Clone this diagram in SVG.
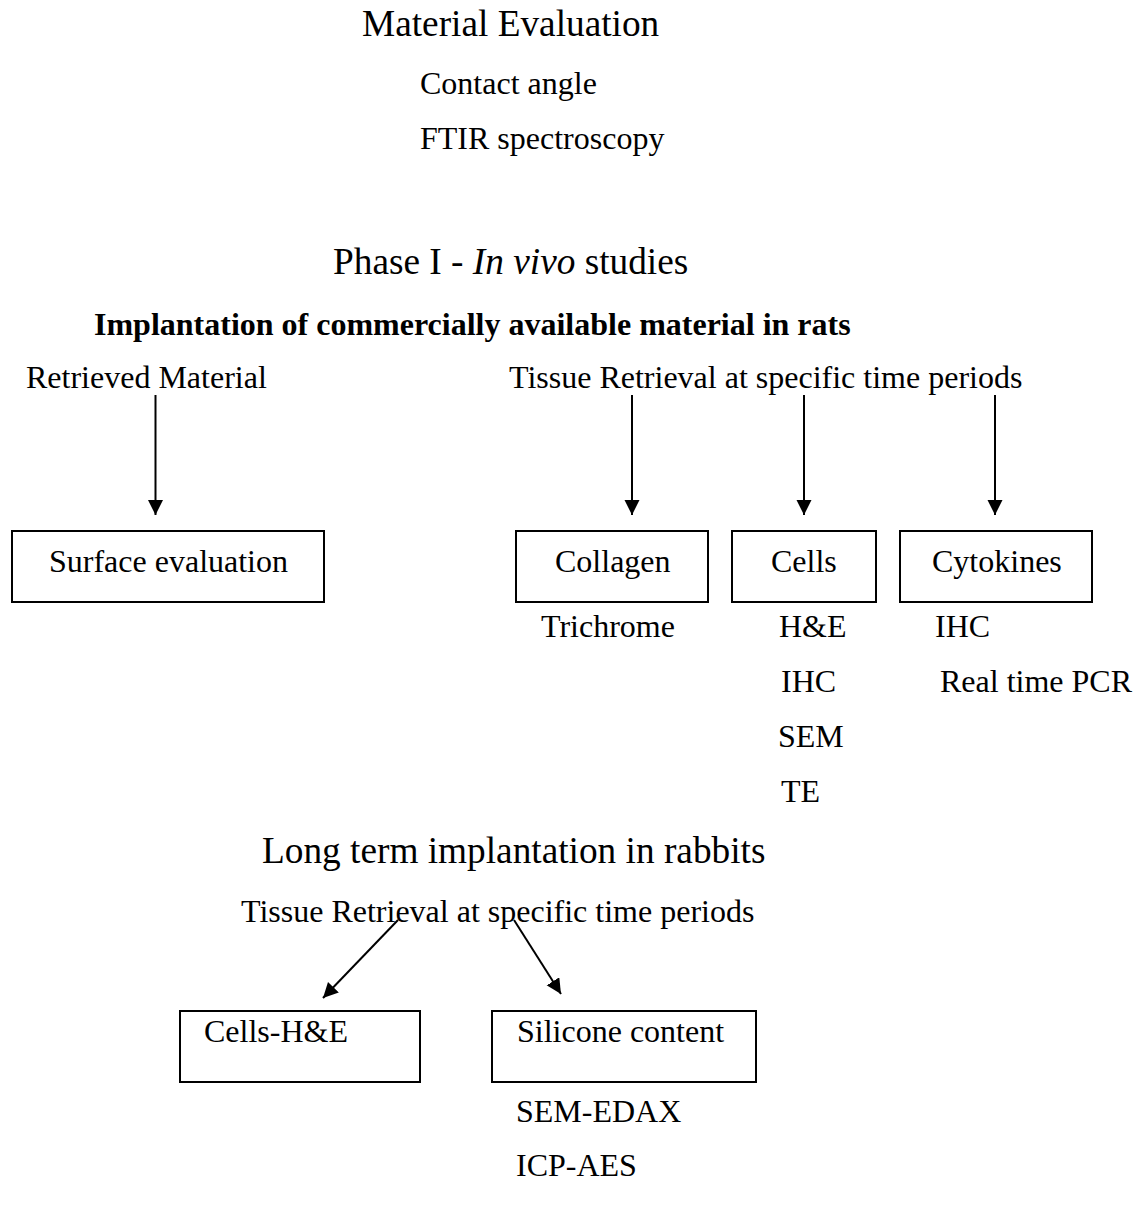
<svg xmlns="http://www.w3.org/2000/svg" width="1137" height="1211" viewBox="0 0 1137 1211">
<style>
text{font-family:"Liberation Serif","Times New Roman",serif;fill:#000;font-size:32px}
.big{font-size:37.3px}
.b{font-weight:bold}
.box{fill:none;stroke:#000;stroke-width:2}
.con{stroke:#000;stroke-width:2;fill:none}
</style>
<defs>
<marker id="ah" markerWidth="16" markerHeight="16" refX="15" refY="7.5" orient="auto" markerUnits="userSpaceOnUse">
<path d="M0,0 L15,7.5 L0,15 Z" fill="#000"/>
</marker>
</defs>
<rect width="1137" height="1211" fill="#fff"/>
<g id="material-evaluation">
<text class="big" x="362" y="36">Material Evaluation</text>
<text x="420" y="94">Contact angle</text>
<text x="420" y="149">FTIR spectroscopy</text>
</g>
<g id="phase1">
<text class="big" x="333" y="274">Phase I - <tspan font-style="italic">In vivo</tspan> studies</text>
<text class="b" x="94" y="335">Implantation of commercially available material in rats</text>
</g>
<g id="retrieved-material"><text x="26" y="388">Retrieved Material</text></g>
<g id="tissue-retrieval-1"><text x="509" y="388">Tissue Retrieval at specific time periods</text></g>
<g id="surface-evaluation">
<rect class="box" x="12" y="531" width="312" height="71"/>
<text x="49" y="572">Surface evaluation</text>
</g>
<g id="collagen">
<rect class="box" x="516" y="531" width="192" height="71"/>
<text x="555" y="572">Collagen</text>
<text x="541" y="637">Trichrome</text>
</g>
<g id="cells">
<rect class="box" x="732" y="531" width="144" height="71"/>
<text x="771" y="572">Cells</text>
<text x="779" y="637">H&amp;E</text>
<text x="781" y="692">IHC</text>
<text x="778" y="747">SEM</text>
<text x="781" y="802">TE</text>
</g>
<g id="cytokines">
<rect class="box" x="900" y="531" width="192" height="71"/>
<text x="932" y="572">Cytokines</text>
<text x="935" y="637">IHC</text>
<text x="940" y="692">Real time PCR</text>
</g>
<g id="long-term">
<text class="big" x="262" y="863">Long term implantation in rabbits</text>
</g>
<g id="tissue-retrieval-2"><text x="241" y="922">Tissue Retrieval at specific time periods</text></g>
<g id="cells-he">
<rect class="box" x="180" y="1011" width="240" height="71"/>
<text x="204" y="1042">Cells-H&amp;E</text>
</g>
<g id="silicone-content">
<rect class="box" x="492" y="1011" width="264" height="71"/>
<text x="517" y="1042">Silicone content</text>
<text x="516" y="1122">SEM-EDAX</text>
<text x="516" y="1176">ICP-AES</text>
</g>
<g id="connectors">
<line class="con" x1="155.5" y1="395" x2="155.5" y2="515" marker-end="url(#ah)"/>
<line class="con" x1="632" y1="395" x2="632" y2="515" marker-end="url(#ah)"/>
<line class="con" x1="804" y1="395" x2="804" y2="515" marker-end="url(#ah)"/>
<line class="con" x1="995" y1="395" x2="995" y2="515" marker-end="url(#ah)"/>
<line class="con" x1="398" y1="920" x2="323" y2="998" marker-end="url(#ah)"/>
<line class="con" x1="514" y1="920" x2="561" y2="994" marker-end="url(#ah)"/>
</g>
</svg>
